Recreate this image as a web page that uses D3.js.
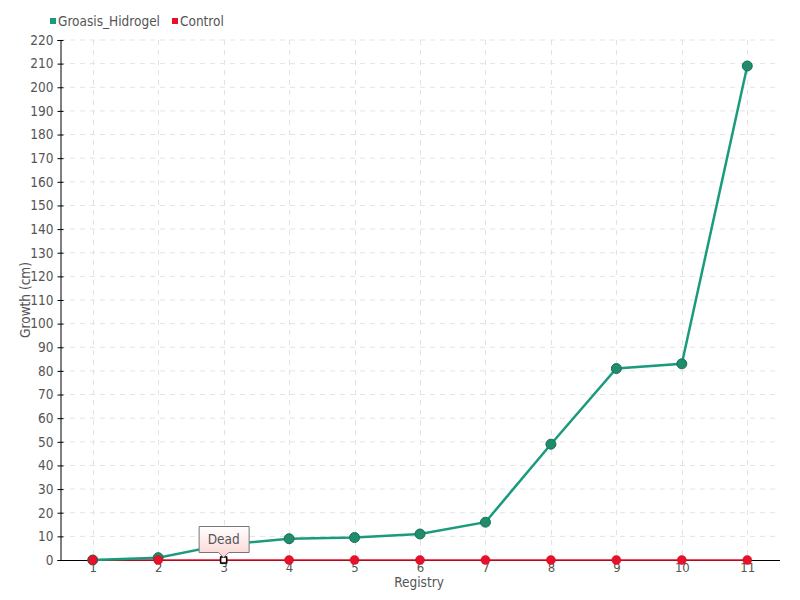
<!DOCTYPE html>
<html>
<head>
<meta charset="utf-8">
<script src="https://cdn.jsdelivr.net/npm/d3@7"></script>
<style>
  body { margin: 0; background: #fff; }
  text { font-family: "DejaVu Sans Condensed", "Liberation Sans Narrow", sans-serif; fill: #555; }
</style>
</head>
<body>
<script>
// data
var registry = [1, 2, 3, 4, 5, 6, 7, 8, 9, 10, 11];
var hidrogel = [0, 1, 6.5, 9, 9.5, 11, 16, 49, 81, 83, 209];
var control = [0, 0, 0, 0, 0, 0, 0, 0, 0, 0, 0];
var yTicks = d3.range(0, 221, 10);
var seriesNames = ['Groasis_Hidrogel', 'Control'];
var seriesColors = ['#1a9b7e', '#e8102a'];
var deadIndex = 2; // registry 3 marked "Dead"

var width = 800, height = 600;
var svg = d3.select('body').append('svg').attr('width', width).attr('height', height);

var x = d3.scaleLinear().domain([0.5, 11.5]).range([60, 780]);
var y = d3.scaleLinear().domain([0, 220]).range([560, 40]);

var grid = svg.append('g');
grid.selectAll('.hg').data(yTicks.slice(1)).enter().append('line')
  .attr('x1', 60).attr('x2', 780)
  .attr('y1', function (d) { return y(d); }).attr('y2', function (d) { return y(d); })
  .attr('stroke', '#e3e3e3').attr('stroke-width', 1).attr('stroke-dasharray', '5,5');
grid.selectAll('.vg').data(registry).enter().append('line')
  .attr('x1', function (d) { return Math.round(x(d)) + 0.5; }).attr('x2', function (d) { return Math.round(x(d)) + 0.5; })
  .attr('y1', 40).attr('y2', 560)
  .attr('stroke', '#e3e3e3').attr('stroke-width', 1).attr('stroke-dasharray', '5,5');

// y axis
var yAxis = svg.append('g').attr('transform', 'translate(60.5,0)')
  .call(d3.axisLeft(y).tickValues(yTicks).tickSize(3).tickPadding(4));
yAxis.select('.domain').attr('stroke', '#000');
yAxis.selectAll('.tick line').attr('stroke', '#000').attr('x2', 3).attr('x1', -3);
yAxis.selectAll('.tick text').style('font-size', '13.5px').style('fill', '#555')
  .style('font-family', '"DejaVu Sans Condensed", sans-serif');

// x axis
var xAxis = svg.append('g').attr('transform', 'translate(0,560.5)')
  .call(d3.axisBottom(x).tickValues(registry).tickSize(0).tickPadding(0).tickFormat(d3.format('d')));
xAxis.select('.domain').attr('stroke', '#000').attr('d', 'M60,0H780');
xAxis.selectAll('.tick text').attr('dy', '0.9em').style('font-size', '13px').style('fill', '#555')
  .style('font-family', '"DejaVu Sans Condensed", sans-serif');

svg.append('text').attr('x', 419).attr('y', 587).attr('text-anchor', 'middle')
  .style('font-size', '13.5px').text('Registry');
svg.append('text').attr('transform', 'translate(30,300) rotate(-90)').attr('text-anchor', 'middle')
  .style('font-size', '13.5px').text('Growth (cm)');

var line = d3.line().x(function (d, i) { return x(registry[i]); }).y(function (d) { return y(d); });

// control series
svg.append('path').attr('d', line(control)).attr('fill', 'none')
  .attr('stroke', seriesColors[1]).attr('stroke-width', 1.5);

// hidrogel series
svg.append('path').attr('d', line(hidrogel)).attr('fill', 'none')
  .attr('stroke', seriesColors[0]).attr('stroke-width', 2.5);
svg.selectAll('.hp').data(hidrogel).enter().append('circle')
  .filter(function (d, i) { return i !== deadIndex; })
  .attr('cx', function (d) { return x(registry[hidrogel.indexOf(d)]); })
  .attr('cy', function (d) { return y(d); })
  .attr('r', 5).attr('fill', '#1f8c6c').attr('stroke', '#19705a').attr('stroke-width', 1);

svg.selectAll('.cp').data(control).enter().append('circle')
  .attr('cx', function (d, i) { return x(registry[i]); })
  .attr('cy', function (d) { return y(d); })
  .attr('r', function (d, i) { return i === deadIndex ? 0 : 4.5; })
  .attr('fill', seriesColors[1]).attr('stroke', '#c40d22').attr('stroke-width', 0.5);

// dead marker
var dx = x(registry[deadIndex]), dy = y(control[deadIndex]);
svg.append('circle').attr('cx', dx).attr('cy', dy).attr('r', 4).attr('fill', seriesColors[1]);
svg.append('rect').attr('x', dx - 3).attr('y', dy - 3).attr('width', 6).attr('height', 6)
  .attr('fill', '#fff').attr('stroke', '#000').attr('stroke-width', 1.5);

// tooltip
var defs = svg.append('defs');
var grad = defs.append('linearGradient').attr('id', 'tipg').attr('x1', 0).attr('y1', 0).attr('x2', 0).attr('y2', 1);
grad.append('stop').attr('offset', '0%').attr('stop-color', '#ffffff');
grad.append('stop').attr('offset', '100%').attr('stop-color', '#fbd3d3');
var tx = dx - 25, ty = dy - 34, tw = 50, th = 26;
svg.append('path')
  .attr('d', 'M' + (tx + 0.5) + ',' + (ty + 0.5) + 'H' + (tx + tw + 0.5) + 'V' + (ty + th + 0.5) +
    'H' + (dx + 5) + 'L' + dx + ',' + (ty + th + 5.5) + 'L' + (dx - 5) + ',' + (ty + th + 0.5) +
    'H' + (tx + 0.5) + 'Z')
  .attr('fill', 'url(#tipg)').attr('stroke', '#777').attr('stroke-width', 1);
svg.append('text').attr('x', dx).attr('y', ty + 18).attr('text-anchor', 'middle')
  .style('font-size', '13.5px').style('fill', '#555').text('Dead');

// legend
var legend = svg.append('g');
var lx = [50, 172];
seriesNames.forEach(function (name, i) {
  legend.append('rect').attr('x', lx[i]).attr('y', 18).attr('width', 6).attr('height', 6)
    .attr('fill', seriesColors[i]);
  legend.append('text').attr('x', lx[i] + 8).attr('y', 26).style('font-size', '13.5px').text(name);
});
</script>
</body>
</html>
